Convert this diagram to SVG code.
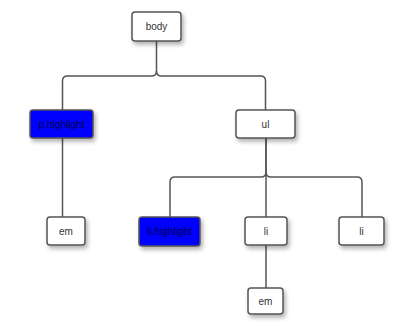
<svg xmlns="http://www.w3.org/2000/svg" width="400" height="327" viewBox="0 0 400 327">
<defs>
<filter id="sh" x="-30%" y="-30%" width="160%" height="170%">
<feDropShadow dx="2" dy="3" stdDeviation="2" flood-color="#000" flood-opacity="0.3"/>
</filter>
<style>
.n rect{fill:#fff;stroke:#555;stroke-width:1.5;filter:url(#sh)}
.n.hl rect{fill:#0000ff;stroke:#555}
.n text{font-family:"Liberation Sans",Arial,sans-serif;font-size:10px;fill:#333;text-anchor:middle;dominant-baseline:central}
.n.hl text{fill:#000044}
.c path{fill:none;stroke:#555;stroke-width:1.5}
</style>
</defs>
<rect width="400" height="327" fill="#fff"/>
<g class="c">
<path d="M156.5,41 V71 Q156.5,76 151.5,76 H67.5 Q62.5,76 62.5,81 V110"/>
<path d="M156.5,71 Q156.5,76 161.5,76 H260.5 Q265.5,76 265.5,81 V110"/>
<path d="M62.5,138 V217"/>
<path d="M266,138 V172 Q266,177 261,177 H175 Q170,177 170,182 V217"/>
<path d="M266,172 Q266,177 271,177 H357 Q362,177 362,182 V217"/>
<path d="M266,138 V217"/>
<path d="M266,245 V288"/>
</g>
<g id="body" class="n"><rect x="132" y="12" width="49" height="29" rx="3"/><text x="156.5" y="26.5">body</text></g>
<g id="p-highlight" class="n hl"><rect x="30" y="110" width="63" height="28" rx="3"/><text x="61.5" y="124">p.highlight</text></g>
<g id="ul" class="n"><rect x="236" y="110" width="59" height="28" rx="3"/><text x="265.5" y="124">ul</text></g>
<g id="em1" class="n"><rect x="47" y="217" width="38" height="28" rx="3"/><text x="66" y="231">em</text></g>
<g id="li-highlight" class="n hl"><rect x="139" y="217" width="61" height="29" rx="3"/><text x="169.5" y="231.5">li.highlight</text></g>
<g id="li1" class="n"><rect x="245" y="217" width="42" height="28" rx="3"/><text x="266" y="231">li</text></g>
<g id="li2" class="n"><rect x="339" y="217" width="45" height="28" rx="3"/><text x="361.5" y="231">li</text></g>
<g id="em2" class="n"><rect x="248" y="288" width="35" height="26" rx="3"/><text x="265.5" y="301">em</text></g>
</svg>
